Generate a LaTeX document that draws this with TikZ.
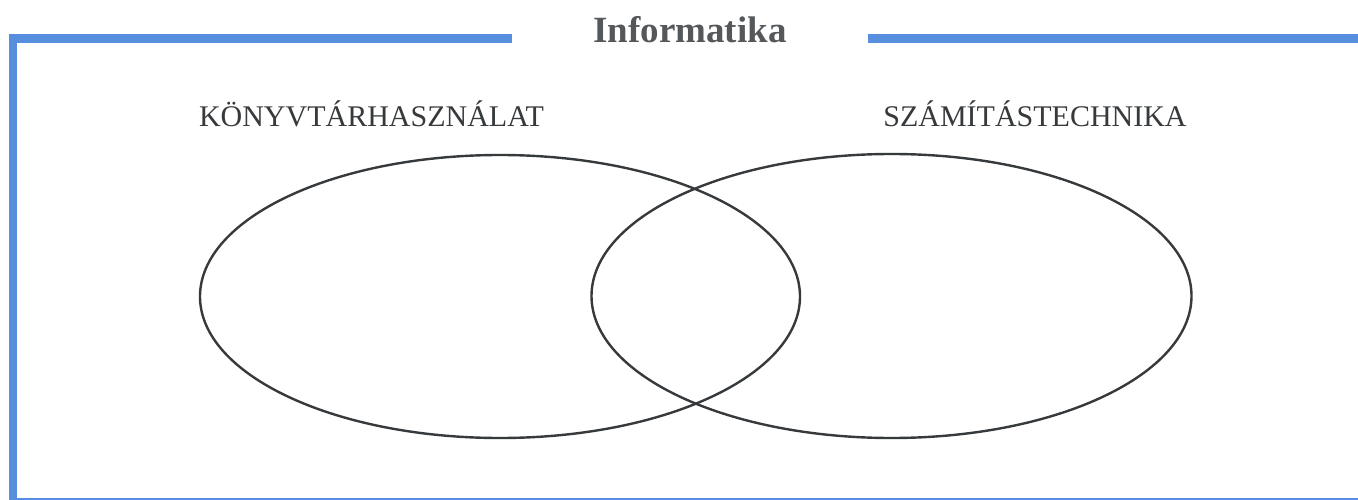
\documentclass[tikz,border=0pt]{standalone}
\usepackage{fontspec}
\setmainfont{Liberation Serif}
\definecolor{frameblue}{RGB}{88,142,222}
\definecolor{inkgray}{RGB}{55,58,60}
\definecolor{titlegray}{RGB}{85,88,90}
\begin{document}
\begin{tikzpicture}[x=1pt,y=-1pt,
  framestyle/.style={draw=frameblue,line width=8.5pt},
  setstyle/.style={draw=inkgray,line width=2.4pt},
  labelstyle/.style={font=\fontsize{30}{30}\selectfont,text=inkgray,inner sep=0pt,anchor=base},
  titlestyle/.style={font=\fontsize{37}{37}\selectfont\bfseries,text=titlegray,inner sep=0pt,anchor=base}]
\useasboundingbox (0,0) rectangle (1358,500);
\fill[white] (0,0) rectangle (1358,500);
% frame
\coordinate (tl) at (13,38.5);
\coordinate (tlend) at (512,38.5);
\coordinate (trstart) at (868,38.5);
\coordinate (tr) at (1362,38.5);
\coordinate (bl) at (13,502.5);
\coordinate (br) at (1362,502.5);
\draw[framestyle,line cap=butt] (tlend) -- (tl) -- (bl) -- (br);
\draw[framestyle] (trstart) -- (tr);
% title
\node[titlestyle] (title) at (690,43) {Informatika};
% labels
\node[labelstyle] (lab1) at (371.5,127) {KÖNYVTÁRHASZNÁLAT};
\node[labelstyle] (lab2) at (1035,127) {SZÁMÍTÁSTECHNIKA};
% sets
\draw[setstyle] (500,296.5) ellipse [x radius=300, y radius=141.5];
\draw[setstyle] (891.5,296) ellipse [x radius=300, y radius=142];
\end{tikzpicture}
\end{document}
